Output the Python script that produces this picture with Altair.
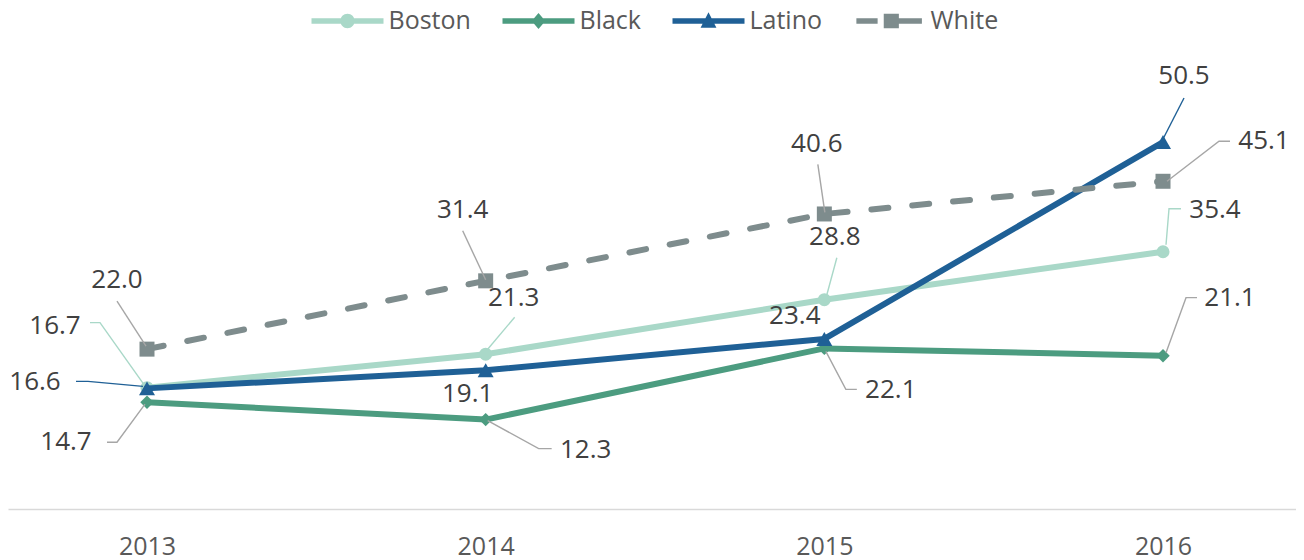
import altair as alt
import pandas as pd

# ---------------- data ----------------
years = [2013, 2014, 2015, 2016]
series = ["Boston", "Black", "Latino", "White"]
boston = [16.7, 21.3, 28.8, 35.4]
black = [14.7, 12.3, 22.1, 21.1]
latino = [16.6, 19.1, 23.4, 50.5]
white = [22.0, 31.4, 40.6, 45.1]
values = {"Boston": boston, "Black": black, "Latino": latino, "White": white}

# ---------------- styling ----------------
colors = {"Boston": "#A9D8C8", "Black": "#4C9C80", "Latino": "#1F6096", "White": "#7E8C8D"}
leader_colors = {"Boston": "#A9D8C8", "Black": "#A6A6A6", "Latino": "#1F6096", "White": "#A6A6A6"}
shapes = {"Boston": "circle", "Black": "diamond", "Latino": "triangle-up", "White": "square"}
sizes = {"Boston": 170, "Black": 180, "Latino": 256, "White": 225}

# legend symbols: line + marker, in a [-1,1] box (36 px per unit)
legend_paths = {
    "Boston": "M-1,-0.075 H1 V0.075 H-1 Z M0.2,0 A0.2,0.2 0 1,1 -0.2,0 A0.2,0.2 0 1,1 0.2,0 Z",
    "Black": "M-1,-0.075 H1 V0.075 H-1 Z M0,-0.22 L0.19,0 L0,0.22 L-0.19,0 Z",
    "Latino": "M-1,-0.075 H1 V0.075 H-1 Z M0,-0.24 L0.22,0.19 L-0.22,0.19 Z",
    "White": "M-0.92,-0.075 H-0.33 V0.075 H-0.92 Z M-0.16,-0.2 H0.26 V0.2 H-0.16 Z M0.26,-0.075 H0.9 V0.075 H0.26 Z",
}

# label offsets (pixels from the data point: dx right, dy down)
label_offsets = {
    "Boston": [(-92, -62), (28, -56), (10.5, -63), (52, -42)],
    "Black": [(-81, 40), (100, 30), (66.5, 42), (67, -58)],
    "Latino": [(-112, -6), (-18, 24), (-29.5, -23), (21, -66)],
    "White": [(-30, -69), (-23, -71), (-7.5, -69.5), (101, -40)],
}
leaders = {
    ("Boston", 2013): [(-57, -65), (-47, -65), (-3, -3)],
    ("Boston", 2014): [(29, -37), (2, -5)],
    ("Boston", 2015): [(12.5, -42), (2.5, -5)],
    ("Boston", 2016): [(18, -43), (6, -43), (3, -7)],
    ("Black", 2013): [(-40, 40), (-30, 40), (-2, 2)],
    ("Black", 2014): [(66, 29), (53, 29), (2, 1)],
    ("Black", 2015): [(32.5, 41), (21.5, 41), (1.5, 3)],
    ("Black", 2016): [(34, -58), (23, -58), (3, -3)],
    ("Latino", 2013): [(-71, -7), (-59, -7), (-4, -2)],
    ("Latino", 2016): [(21, -44), (0, -3)],
    ("White", 2013): [(-30, -48), (-1, -3)],
    ("White", 2014): [(-23, -50), (0, -1)],
    ("White", 2015): [(-6.5, -49.5), (0.5, -1.5)],
    ("White", 2016): [(67, -40), (56, -40), (4, 0)],
}

# ---------------- geometry ----------------
W, H = 1288, 436
X0, X1 = 2012.58957, 2016.39268
Y0, Y1 = 0, 60
SX = W / (X1 - X0)
SY = H / (Y1 - Y0)

FONT = "Open Sans"

rows = []
for s in series:
    for yr, v in zip(years, values[s]):
        rows.append({"series": s, "year": yr, "value": v})
df = pd.DataFrame(rows)

lab_rows = []
for s in series:
    for i, (yr, v) in enumerate(zip(years, values[s])):
        dx, dy = label_offsets[s][i]
        lab_rows.append({"series": s, "value": v, "lx": yr + dx / SX, "ly": v - dy / SY})
lab_df = pd.DataFrame(lab_rows)

lead_rows = []
for (s, yr), pts in leaders.items():
    v = values[s][years.index(yr)]
    for k, (dx, dy) in enumerate(pts):
        lead_rows.append({"id": f"{s}{yr}", "k": k, "x": yr + dx / SX, "y": v - dy / SY,
                          "c": leader_colors[s]})
lead_df = pd.DataFrame(lead_rows)

xscale = alt.Scale(domain=[X0, X1], nice=False, zero=False)
yscale = alt.Scale(domain=[Y0, Y1], nice=False, zero=False)

xaxis = alt.Axis(values=years, format="d", title=None, grid=False, ticks=False, tickSize=0,
                 domain=True, domainColor="#D9D9D9", domainWidth=1.5, labelFont=FONT,
                 labelFontSize=25, labelColor="#595959", labelPadding=37,
                 labelBaseline="middle")


def xenc(field):
    return alt.X(field, scale=xscale, axis=xaxis, title=None)


def yenc(field):
    return alt.Y(field, scale=yscale, axis=None, title=None)


layers = []
for s in series:
    sub = df[df.series == s]
    line_kwargs = dict(color=colors[s], strokeWidth=6, strokeCap="round", strokeJoin="round")
    if s == "White":
        line_kwargs["strokeDash"] = [17, 24]
    ln = alt.Chart(sub).mark_line(**line_kwargs).encode(
        x=xenc("year:Q"),
        y=yenc("value:Q"),
    )
    pt = alt.Chart(sub).mark_point(filled=True, shape=shapes[s], size=sizes[s], color=colors[s],
                                   opacity=1, strokeWidth=0).encode(
        x=xenc("year:Q"),
        y=yenc("value:Q"),
    )
    layers += [ln, pt]

lead = alt.Chart(lead_df).mark_line(strokeWidth=1.4).encode(
    x=xenc("x:Q"),
    y=yenc("y:Q"),
    detail="id:N",
    order="k:Q",
    stroke=alt.Stroke("c:N", scale=None),
)

labels = alt.Chart(lab_df).mark_text(font=FONT, fontSize=26, color="#404040",
                                     align="center", baseline="middle").encode(
    x=xenc("lx:Q"),
    y=yenc("ly:Q"),
    text=alt.Text("value:Q", format=".1f"),
)

legend_df = pd.DataFrame({"series": series, "year": [X0] * 4, "value": [Y1] * 4})
leg = alt.Legend(title=None, orient="none", legendX=303.5, legendY=-88, direction="horizontal",
                 symbolSize=5184, symbolStrokeWidth=0, labelFont=FONT,
                 labelFontSize=25, labelColor="#595959", labelOffset=5, columnPadding=31)
legend_layer = alt.Chart(legend_df).mark_point(filled=True, size=0, opacity=1).encode(
    x=xenc("year:Q"),
    y=yenc("value:Q"),
    color=alt.Color("series:N", scale=alt.Scale(domain=series, range=[colors[s] for s in series]),
                    legend=leg),
    shape=alt.Shape("series:N", scale=alt.Scale(domain=series, range=[legend_paths[s] for s in series]),
                    legend=leg),
)

chart = alt.layer(*layers, lead, labels, legend_layer).properties(
    width=W, height=H,
    autosize=alt.AutoSizeParams(type="none"),
    padding={"left": 0, "top": 65, "right": 0, "bottom": 52},
    background="white",
).configure_view(stroke=None)

chart.save("out.html", embed_options={"renderer": "svg", "actions": False})
